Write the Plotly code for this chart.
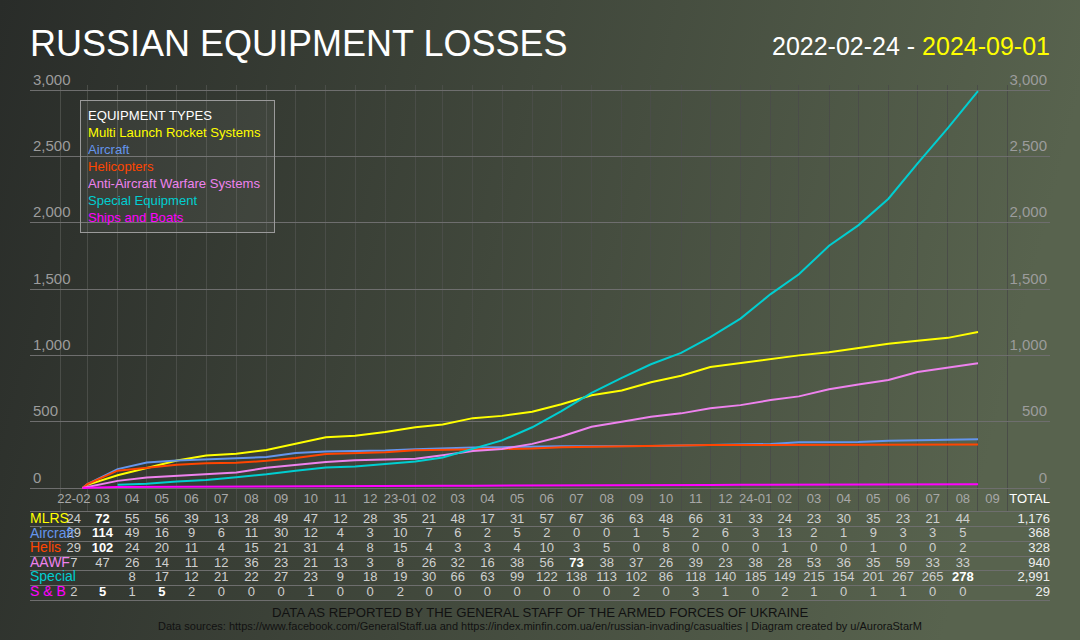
import base64
import pandas as pd
import plotly.graph_objects as go

START = "2022-02-24"
END = "2024-09-01"

# monthly losses 2022-02 .. 2024-08
MLRS = [24, 72, 55, 56, 39, 13, 28, 49, 47, 12, 28,
        35, 21, 48, 17, 31, 57, 67, 36, 63, 48, 66, 31,
        33, 24, 23, 30, 35, 23, 21, 44]
AIRCRAFT = [29, 114, 49, 16, 9, 6, 11, 30, 12, 4, 3,
            10, 7, 6, 2, 5, 2, 0, 0, 1, 5, 2, 6,
            3, 13, 2, 1, 9, 3, 3, 5]
HELIS = [29, 102, 24, 20, 11, 4, 15, 21, 31, 4, 8,
         15, 4, 3, 3, 4, 10, 3, 5, 0, 8, 0, 0,
         0, 1, 0, 0, 1, 0, 0, 2]
AAWF = [7, 47, 26, 14, 11, 12, 36, 23, 21, 13, 3,
        8, 26, 32, 16, 38, 56, 73, 38, 37, 26, 39, 23,
        38, 28, 53, 36, 35, 59, 33, 33]
SPECIAL = [None, None, 8, 17, 12, 21, 22, 27, 23, 9, 18,
           19, 30, 66, 63, 99, 122, 138, 113, 102, 86, 118, 140,
           185, 149, 215, 154, 201, 267, 265, 278]
SHIPS = [2, 5, 1, 5, 2, 0, 0, 0, 1, 0, 0,
         2, 0, 0, 0, 0, 0, 0, 0, 2, 0, 3, 1,
         0, 2, 1, 0, 1, 1, 0, 0]
SPECIAL_START = 24  # count already reported when the series started (2022-04)

MONTH_LABELS = ["22-02", "03", "04", "05", "06", "07", "08", "09", "10", "11", "12",
                "23-01", "02", "03", "04", "05", "06", "07", "08", "09", "10", "11", "12",
                "24-01", "02", "03", "04", "05", "06", "07", "08", "09"]

SERIES = [
    ("Multi Launch Rocket Systems", "MLRS", MLRS, "#ffff00", 0),
    ("Aircraft", "Aircraft", AIRCRAFT, "#6495ed", 0),
    ("Helicopters", "Helis", HELIS, "#ff4500", 0),
    ("Anti-Aircraft Warfare Systems", "AAWF", AAWF, "#ee82ee", 0),
    ("Special Equipment", "Special", SPECIAL, "#00ced1", SPECIAL_START),
    ("Ships and Boats", "S & B", SHIPS, "#ff00ff", 0),
]

W, H = 1080, 640
FONT = "Liberation Sans, Arial, sans-serif"
NARROW = "Liberation Sans Narrow, Arial Narrow, sans-serif"


def px_x(p):
    return p / W


def px_y(p):
    return 1 - p / H


month_starts = pd.date_range("2022-02-01", "2024-10-01", freq="MS")
month_mid = [a + (b - a) / 2 for a, b in zip(month_starts[:-1], month_starts[1:])]
month_ends = list(month_starts[1:len(MLRS) + 1])
x_lo, x_hi = pd.Timestamp("2022-01-01"), pd.Timestamp("2024-11-14")

fig = go.Figure()

# cumulative lines (the last one sits on the right-hand axis so that axis gets drawn)
for i, (name, short, vals, color, base) in enumerate(SERIES):
    xs, ys = [], []
    total = base
    if base:
        first = next(k for k, v in enumerate(vals) if v is not None)
        xs.append(month_starts[first])
        ys.append(total)
    else:
        xs.append(pd.Timestamp(START))
        ys.append(0)
    for d, v in zip(month_ends, vals):
        if v is None:
            continue
        total += v
        xs.append(d)
        ys.append(total)
    fig.add_trace(go.Scatter(x=xs, y=ys, mode="lines", name=name,
                             yaxis="y2" if i == len(SERIES) - 1 else "y",
                             line=dict(color=color, width=2), hoverinfo="skip"))

# month header row inside the plot area, below zero
fig.add_trace(go.Scatter(x=month_mid, y=[-90] * len(MONTH_LABELS), mode="text",
                         text=MONTH_LABELS, textfont=dict(color="#a8a8a8", size=13, family=FONT),
                         cliponaxis=False, hoverinfo="skip"))
fig.add_trace(go.Scatter(x=[x_hi], y=[-90], mode="text", text=["TOTAL"],
                         textposition="middle left", textfont=dict(color="#ffffff", size=13, family=FONT),
                         cliponaxis=False, hoverinfo="skip"))

# table rows
rows = list(range(len(SERIES)))
for row, (name, short, vals, color, base) in enumerate(SERIES):
    top = max(v for v in vals if v is not None)
    texts, colors = [], []
    for v in vals:
        if v is None:
            texts.append("")
            colors.append("#cfcfcf")
        elif v == top:
            texts.append(f"<b>{v}</b>")
            colors.append("#ffffff")
        else:
            texts.append(str(v))
            colors.append("#cfcfcf")
    fig.add_trace(go.Scatter(x=month_mid[:len(vals)], y=[row] * len(vals), mode="text",
                             text=texts, textfont=dict(color=colors, size=13, family=FONT),
                             xaxis="x2", yaxis="y3", cliponaxis=False, hoverinfo="skip"))

totals = [base + sum(v for v in vals if v is not None) for _, _, vals, _, base in SERIES]
fig.add_trace(go.Scatter(x=[x_hi] * len(SERIES), y=rows, mode="text",
                         text=[f"{t:,}" for t in totals], textposition="middle left",
                         textfont=dict(color="#eeeeee", size=13, family=FONT),
                         xaxis="x2", yaxis="y3", cliponaxis=False, hoverinfo="skip"))
fig.add_trace(go.Scatter(x=[x_lo] * len(SERIES), y=rows, mode="text",
                         text=[s[1] for s in SERIES], textposition="middle right",
                         textfont=dict(color=[s[3] for s in SERIES], size=14, family=FONT),
                         xaxis="x2", yaxis="y3", cliponaxis=False, hoverinfo="skip"))

# background gradient
svg = ("<svg xmlns='http://www.w3.org/2000/svg' width='1080' height='640'>"
       "<defs><linearGradient id='g' x1='0' y1='0' x2='1' y2='0.15'>"
       "<stop offset='0' stop-color='#292c29'/><stop offset='1' stop-color='#58634e'/>"
       "</linearGradient></defs><rect width='1080' height='640' fill='url(#g)'/></svg>")
bg = "data:image/svg+xml;base64," + base64.b64encode(svg.encode()).decode()

yticks = list(range(0, 3001, 500))
y_range = [-173, 3038]
grid_h = "#6e6e6e"
grid_v = "#4a4d48"
tick_col = "#9c9c9c"

legend_text = "EQUIPMENT TYPES" + "".join(
    f"<br><span style='color:{c}'>{n}</span>" for n, _, _, c, _ in SERIES)

fig.update_layout(
    width=W, height=H,
    margin=dict(l=0, r=0, t=0, b=0, autoexpand=False),
    paper_bgcolor="#41473c",
    plot_bgcolor="rgba(0,0,0,0)",
    showlegend=False,
    hovermode=False,
    font=dict(family=FONT, color="#ffffff"),
    images=[dict(source=bg, xref="paper", yref="paper", x=0, y=1, sizex=1, sizey=1,
                 sizing="stretch", layer="below", xanchor="left", yanchor="top")],
    xaxis=dict(type="date", domain=[px_x(30), px_x(1050)], range=[x_lo, x_hi],
               tickmode="array", tickvals=list(month_starts), showticklabels=False,
               showgrid=True, gridcolor=grid_v, gridwidth=1, ticks="",
               showline=True, linecolor=grid_h, linewidth=1, zeroline=False, anchor="y"),
    yaxis=dict(domain=[px_y(511), px_y(85)], range=y_range, tickvals=yticks,
               tickformat=",", showgrid=True, gridcolor=grid_h, gridwidth=1, zeroline=False,
               ticklabelposition="inside top", ticklabeloverflow="allow", automargin=False,
               tickfont=dict(color=tick_col, size=15, family=FONT),
               ticks="", showline=False),
    yaxis2=dict(overlaying="y", side="right", anchor="x", range=y_range, tickvals=yticks,
                tickformat=",", showgrid=False, zeroline=False,
                ticklabelposition="inside top", ticklabeloverflow="allow", automargin=False,
                tickfont=dict(color=tick_col, size=15, family=FONT),
                ticks="", showline=False),
    xaxis2=dict(type="date", domain=[px_x(30), px_x(1050)], range=[x_lo, x_hi], matches="x",
                showticklabels=False, showgrid=False, ticks="", anchor="y3",
                showline=True, linecolor=grid_h, linewidth=1, zeroline=False),
    yaxis3=dict(domain=[px_y(599.8), px_y(512.2)], range=[5.5, -0.5],
                tickvals=[0.5, 1.5, 2.5, 3.5, 4.5], showticklabels=False,
                showgrid=True, gridcolor=grid_h, gridwidth=1, zeroline=False, ticks=""),
    annotations=[
        dict(text="RUSSIAN EQUIPMENT LOSSES", x=px_x(28), y=px_y(44), xref="paper", yref="paper",
             xanchor="left", yanchor="middle", showarrow=False,
             font=dict(size=36, color="#ffffff", family=FONT)),
        dict(text=f"{START} - <span style='color:#ffff00'>{END}</span>",
             x=px_x(1052), y=px_y(46), xref="paper", yref="paper",
             xanchor="right", yanchor="middle", showarrow=False,
             font=dict(size=25, color="#ffffff", family=FONT)),
        dict(text=legend_text, x=px_x(80), y=px_y(100), xref="paper", yref="paper",
             xanchor="left", yanchor="top", align="left", showarrow=False,
             width=179, height=117,
             bordercolor="#9a9a9a", borderwidth=1, borderpad=7,
             bgcolor="rgba(255,255,255,0.05)",
             font=dict(size=13.1, color="#ffffff", family=FONT)),
        dict(text="DATA AS REPORTED BY THE GENERAL STAFF OF THE ARMED FORCES OF UKRAINE",
             x=0.5, y=px_y(612), xref="paper", yref="paper", xanchor="center", yanchor="middle",
             showarrow=False, font=dict(size=13.2, color="#111111", family=NARROW)),
        dict(text="Data sources: https://www.facebook.com/GeneralStaff.ua and "
                  "https://index.minfin.com.ua/en/russian-invading/casualties | "
                  "Diagram created by u/AuroraStarM",
             x=0.5, y=px_y(626), xref="paper", yref="paper", xanchor="center", yanchor="middle",
             showarrow=False, font=dict(size=11, color="#111111", family=NARROW)),
    ],
)

fig.write_html("out.html", config={"displayModeBar": False},
               post_script="document.body.style.margin='0';")
